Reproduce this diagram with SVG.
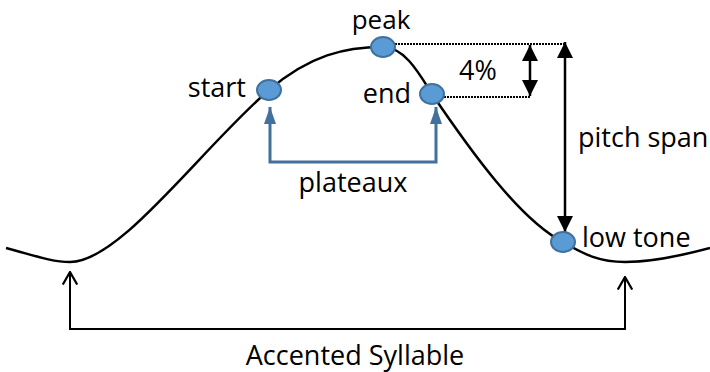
<svg xmlns="http://www.w3.org/2000/svg" width="710" height="372" viewBox="0 0 710 372">
<defs>
<marker id="solid" viewBox="0 0 10 10" refX="10" refY="5" markerWidth="16" markerHeight="16" markerUnits="userSpaceOnUse" orient="auto-start-reverse"><path d="M0,0 L10,5 L0,10 Z" fill="#000"/></marker>
<marker id="blue" viewBox="0 0 10 10" refX="10" refY="5" markerWidth="17" markerHeight="12" markerUnits="userSpaceOnUse" orient="auto-start-reverse" preserveAspectRatio="none"><path d="M0,0 L10,5 L0,10 Z" fill="#41719c"/></marker>
<marker id="open" viewBox="0 0 10 10" refX="9" refY="5" markerWidth="14" markerHeight="16" markerUnits="userSpaceOnUse" orient="auto-start-reverse" preserveAspectRatio="none"><path d="M0,0.5 L9,5 L0,9.5" fill="none" stroke="#000" stroke-width="1.4"/></marker>
</defs>
<style>
text{font-family:"Open Sans","Liberation Sans",sans-serif;font-size:27px;fill:#000}
.node{fill:#5b9bd5;stroke:#41719c;stroke-width:2}
.dot{stroke:#000;stroke-width:2;stroke-dasharray:2 1;fill:none}
</style>
<rect width="710" height="372" fill="#fff"/>
<g id="connectors">
<path d="M6,248 C30,254 50,262 70,262 C120,262 200,150 269,90 C310,55 345,47 383,47 C405,47 420,75 432,94 C470,150 520,220 563,242 C585,255 600,262 625,262 C650,262 680,256 710,248" fill="none" stroke="#000" stroke-width="2.5"/>
<line class="dot" x1="395" y1="44" x2="565" y2="44"/>
<line class="dot" x1="444" y1="97" x2="530" y2="97"/>
<line x1="530" y1="45" x2="530" y2="96" stroke="#000" stroke-width="2.5" marker-start="url(#solid)" marker-end="url(#solid)"/>
<line x1="565" y1="42" x2="565" y2="232" stroke="#000" stroke-width="2.5" marker-start="url(#solid)" marker-end="url(#solid)"/>
<polyline points="270,107 270,162 436,162 436,107" fill="none" stroke="#41719c" stroke-width="3" marker-start="url(#blue)" marker-end="url(#blue)"/>
<polyline points="70,272 70,329 625,329 625,277" fill="none" stroke="#000" stroke-width="2" marker-start="url(#open)" marker-end="url(#open)"/>
</g>
<g id="peak"><ellipse class="node" cx="383" cy="47" rx="12" ry="10"/><text x="381" y="29" text-anchor="middle" style="font-size:26px">peak</text></g>
<g id="start"><ellipse class="node" cx="269" cy="90" rx="12" ry="10"/><text x="246" y="97" text-anchor="end">start</text></g>
<g id="end"><ellipse class="node" cx="432" cy="94" rx="12" ry="10"/><text x="411" y="103" text-anchor="end">end</text></g>
<g id="lowtone"><ellipse class="node" cx="563" cy="242" rx="12" ry="10"/><text x="582" y="247">low tone</text></g>
<text x="478" y="80" text-anchor="middle">4%</text>
<text x="578" y="147">pitch span</text>
<text x="353" y="192" text-anchor="middle">plateaux</text>
<text x="355" y="365" text-anchor="middle">Accented Syllable</text>
</svg>
